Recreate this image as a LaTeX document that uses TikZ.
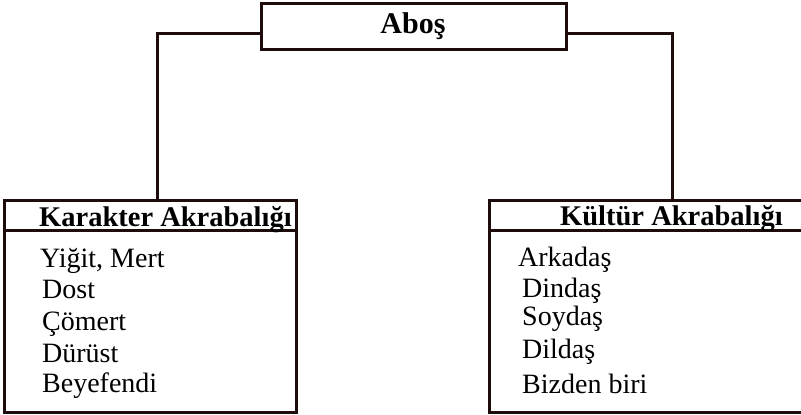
\documentclass[tikz,border=0pt]{standalone}
\usepackage{fontspec}
\setmainfont{Liberation Serif}
\definecolor{ink}{RGB}{30,12,12}
\begin{document}
\begin{tikzpicture}[x=1pt,y=-1pt,
  box/.style={draw=ink, line width=3pt, inner sep=0pt, outer sep=0pt},
  conn/.style={draw=ink, line width=3pt},
  head/.style={anchor=base west, inner sep=0pt, font=\fontsize{28.5}{28.5}\selectfont\bfseries, text=black},
  item/.style={anchor=base west, inner sep=0pt, font=\fontsize{28}{28}\selectfont, text=black}]
\useasboundingbox (0,0) rectangle (801,415);
% top box
\node[box, minimum width=305pt, minimum height=46pt] (abos) at (413.5,26) {};
\node[anchor=base, inner sep=0pt, font=\fontsize{30}{30}\selectfont\bfseries] (abostxt) at (413,33) {Aboş};
% lower boxes
\node[box, minimum width=292pt, minimum height=212pt] (kar) at (150,306) {};
\node[box, minimum width=315pt, minimum height=212pt] (kul) at (646.5,306) {};
\coordinate (hl) at (0,230);
\draw[conn] (kar.west |- hl) -- (kar.east |- hl);
\draw[conn] (kul.west |- hl) -- (kul.east |- hl);
% connectors
\coordinate (lj) at (157,33);
\coordinate (rj) at (672,33);
\draw[conn] (abos.west |- lj) -| (kar.north -| lj);
\draw[conn] (abos.east |- rj) -| (kul.north -| rj);
% headers
\node[head] (karh) at (39,226) {Karakter Akrabalığı};
\node[head] (kulh) at (560,225) {Kültür Akrabalığı};
% items left
\node[item] (l1) at (40,267) {Yiğit, Mert};
\node[item] (l2) at (42,298) {Dost};
\node[item] (l3) at (42,330) {Çömert};
\node[item] (l4) at (42,362) {Dürüst};
\node[item] (l5) at (42,392) {Beyefendi};
% items right
\node[item] (r1) at (518,266) {Arkadaş};
\node[item] (r2) at (522,297) {Dindaş};
\node[item] (r3) at (522,325) {Soydaş};
\node[item] (r4) at (522,358) {Dildaş};
\node[item] (r5) at (522,393) {Bizden biri};
\end{tikzpicture}
\end{document}
